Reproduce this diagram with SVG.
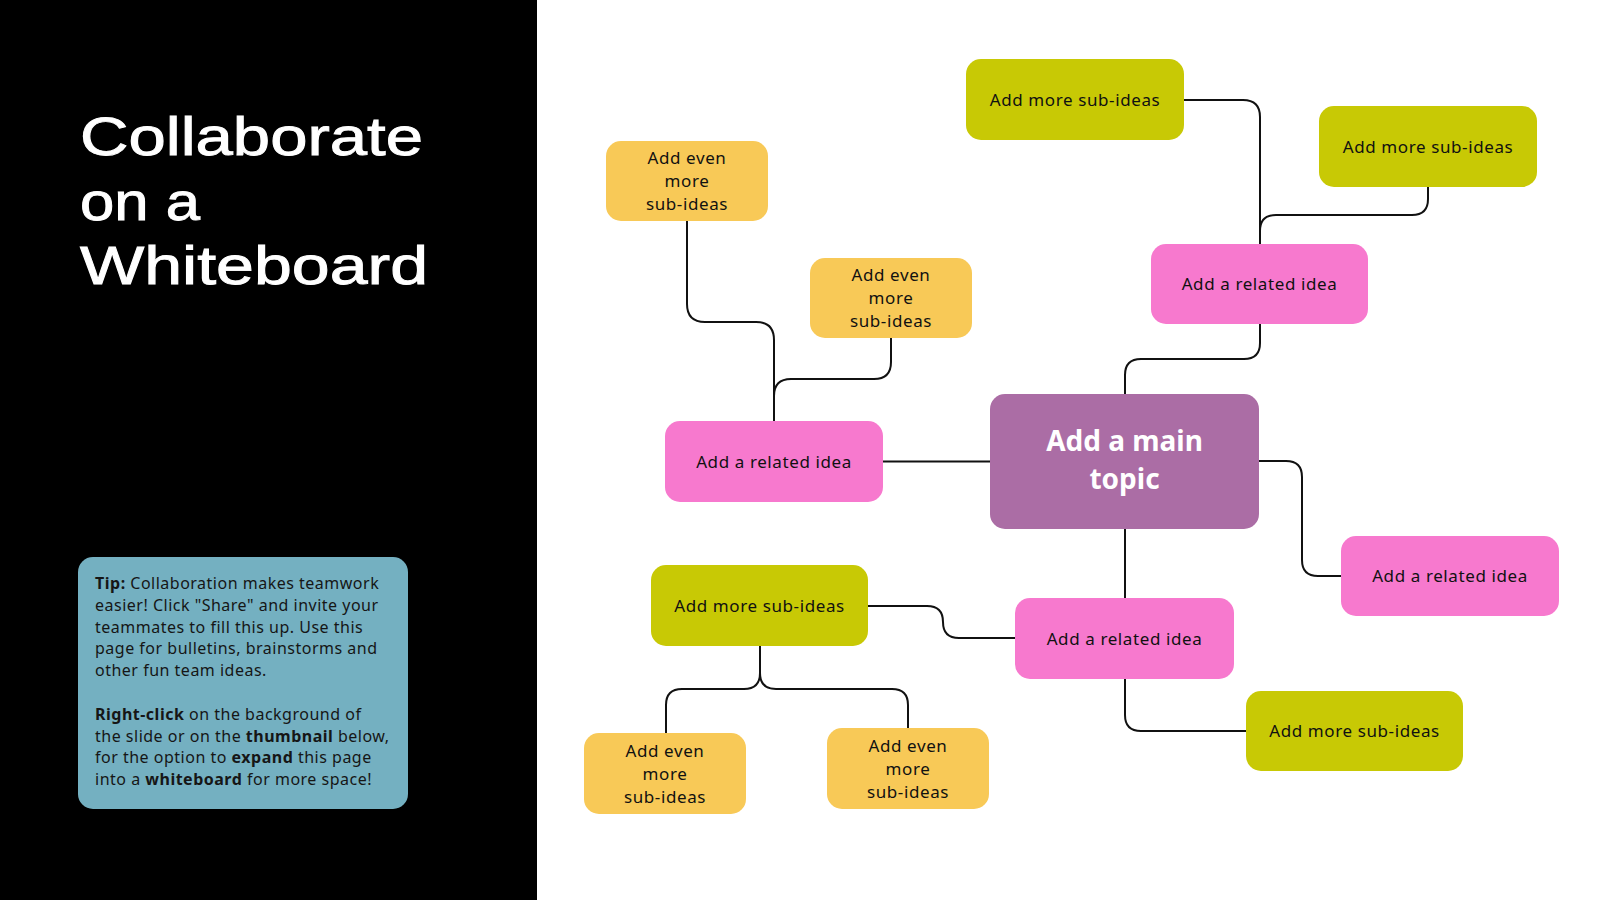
<svg xmlns="http://www.w3.org/2000/svg" width="1600" height="900" viewBox="0 0 1600 900">
<defs>
<style>
.conn{fill:none;stroke:#111;stroke-width:2;stroke-linecap:round}
.pink{fill:#F779CE}
.yellow{fill:#F8C957}
.green{fill:#C8C905}
.main{fill:#AB6DA5}
.t{font-family:"Noto Sans",sans-serif;font-size:17px;letter-spacing:0.6px;fill:#111;text-anchor:middle}
.mt{font-family:"Noto Sans",sans-serif;font-size:28px;font-weight:bold;fill:#fff;text-anchor:middle}
.title{font-family:"Liberation Sans",Arial,sans-serif;font-size:53px;fill:#fff;stroke:#fff;stroke-width:0.9px}
.tip{font-family:"Noto Sans",sans-serif;font-size:16px;letter-spacing:0.5px;fill:#161616}
</style>
</defs>
<rect x="0" y="0" width="1600" height="900" fill="#fff"/>
<rect x="0" y="0" width="537" height="900" fill="#000"/>
<g id="title">
<text class="title" x="80" y="155" textLength="343" lengthAdjust="spacingAndGlyphs">Collaborate</text>
<text class="title" x="80" y="220" textLength="120" lengthAdjust="spacingAndGlyphs">on a</text>
<text class="title" x="80" y="284" textLength="348" lengthAdjust="spacingAndGlyphs">Whiteboard</text>
</g>
<g id="tip">
<rect x="78" y="557" width="330" height="252" rx="15" fill="#74B0C1"/>
<text class="tip" x="95" y="589"><tspan font-weight="bold">Tip:</tspan> Collaboration makes teamwork</text>
<text class="tip" x="95" y="611">easier! Click "Share" and invite your</text>
<text class="tip" x="95" y="633">teammates to fill this up. Use this</text>
<text class="tip" x="95" y="654">page for bulletins, brainstorms and</text>
<text class="tip" x="95" y="676">other fun team ideas.</text>
<text class="tip" x="95" y="720"><tspan font-weight="bold">Right-click</tspan> on the background of</text>
<text class="tip" x="95" y="742">the slide or on the <tspan font-weight="bold">thumbnail</tspan> below,</text>
<text class="tip" x="95" y="763">for the option to <tspan font-weight="bold">expand</tspan> this page</text>
<text class="tip" x="95" y="785">into a <tspan font-weight="bold">whiteboard</tspan> for more space!</text>
</g>
<g id="connectors">
<path class="conn" d="M883,461.5 H990"/>
<path class="conn" d="M687,221 V304 Q687,322 705,322 H756 Q774,322 774,340 V421"/>
<path class="conn" d="M891,338 V362 Q891,379 874,379 H791 Q774,379 774,396"/>
<path class="conn" d="M1184,100 H1243 Q1260,100 1260,117 V244"/>
<path class="conn" d="M1428,187 V199 Q1428,215 1412,215 H1276 Q1260,215 1260,231"/>
<path class="conn" d="M1260,324 V343 Q1260,359 1244,359 H1141 Q1125,359 1125,375 V394"/>
<path class="conn" d="M1259,461 H1286 Q1302,461 1302,477 V560 Q1302,576 1318,576 H1341"/>
<path class="conn" d="M1125,529 V598"/>
<path class="conn" d="M1125,679 V715 Q1125,731 1141,731 H1246"/>
<path class="conn" d="M1015,638 H959 Q943,638 943,622 Q943,606 927,606 H868"/>
<path class="conn" d="M760,646 V673 Q760,689 744,689 H682 Q666,689 666,705 V733"/>
<path class="conn" d="M760,673 Q760,689 776,689 H892 Q908,689 908,705 V728"/>
</g>
<g id="main-topic">
<rect class="main" x="990" y="394" width="269" height="135" rx="15"/>
<text class="mt" x="1124.5" y="451">Add a main</text>
<text class="mt" x="1124.5" y="489">topic</text>
</g>
<g id="related-left">
<rect class="pink" x="665" y="421" width="218" height="81" rx="15"/>
<text class="t" x="774" y="467.5">Add a related idea</text>
</g>
<g id="related-top">
<rect class="pink" x="1151" y="244" width="217" height="80" rx="15"/>
<text class="t" x="1259.5" y="290">Add a related idea</text>
</g>
<g id="related-right">
<rect class="pink" x="1341" y="536" width="218" height="80" rx="15"/>
<text class="t" x="1450" y="582">Add a related idea</text>
</g>
<g id="related-bottom">
<rect class="pink" x="1015" y="598" width="219" height="81" rx="15"/>
<text class="t" x="1124.5" y="644.5">Add a related idea</text>
</g>
<g id="sub-top-1">
<rect class="green" x="966" y="59" width="218" height="81" rx="15"/>
<text class="t" x="1075" y="105.5">Add more sub-ideas</text>
</g>
<g id="sub-top-2">
<rect class="green" x="1319" y="106" width="218" height="81" rx="15"/>
<text class="t" x="1428" y="152.5">Add more sub-ideas</text>
</g>
<g id="sub-bottom-right">
<rect class="green" x="1246" y="691" width="217" height="80" rx="15"/>
<text class="t" x="1354.5" y="737">Add more sub-ideas</text>
</g>
<g id="sub-bottom-left">
<rect class="green" x="651" y="565" width="217" height="81" rx="15"/>
<text class="t" x="759.5" y="611.5">Add more sub-ideas</text>
</g>
<g id="even-1">
<rect class="yellow" x="606" y="141" width="162" height="80" rx="15"/>
<text class="t" x="687" y="164">Add even</text>
<text class="t" x="687" y="187">more</text>
<text class="t" x="687" y="210">sub-ideas</text>
</g>
<g id="even-2">
<rect class="yellow" x="810" y="258" width="162" height="80" rx="15"/>
<text class="t" x="891" y="281">Add even</text>
<text class="t" x="891" y="304">more</text>
<text class="t" x="891" y="327">sub-ideas</text>
</g>
<g id="even-3">
<rect class="yellow" x="584" y="733" width="162" height="81" rx="15"/>
<text class="t" x="665" y="756.5">Add even</text>
<text class="t" x="665" y="779.5">more</text>
<text class="t" x="665" y="802.5">sub-ideas</text>
</g>
<g id="even-4">
<rect class="yellow" x="827" y="728" width="162" height="81" rx="15"/>
<text class="t" x="908" y="751.5">Add even</text>
<text class="t" x="908" y="774.5">more</text>
<text class="t" x="908" y="797.5">sub-ideas</text>
</g>
</svg>
